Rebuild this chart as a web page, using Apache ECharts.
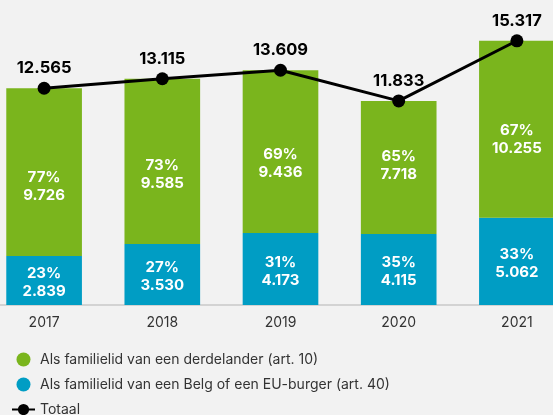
<!DOCTYPE html>
<html>
<head>
<meta charset="utf-8">
<script src="https://cdn.jsdelivr.net/npm/echarts@6/dist/echarts.min.js"></script>
<style>
  html, body { margin: 0; padding: 0; background: #f2f2f2; overflow: hidden; }
  #chart { width: 591px; height: 415px; margin-left: -15px; }
</style>
</head>
<body>
<div id="chart"></div>
<script>
// gegevens
var years = ['2017', '2018', '2019', '2020', '2021']
var art10 = [9726, 9585, 9436, 7718, 10255]
var art10Pct = [77, 73, 69, 65, 67]
var art40 = [2839, 3530, 4173, 4115, 5062]
var art40Pct = [23, 27, 31, 35, 33]
var totaal = [12565, 13115, 13609, 11833, 15317]

// verschuiving van de labels in de groene balken
var greenShift = [14, 13, 12, -2, 10]

function fmt (v) {
  return String(v).replace(/\B(?=(\d{3})+(?!\d))/g, '.')
}

var myChart = echarts.init(document.getElementById('chart'))
var font = 'Inter'

var option = {
  backgroundColor: '#f2f2f2',
  textStyle: { fontFamily: font },
  animation: false,
  grid: { left: 0, right: 0, top: 29, bottom: 110 },
  legend: {
    orient: 'vertical',
    left: 21,
    top: 347,
    height: 70,
    itemGap: 10,
    itemWidth: 23,
    itemHeight: 14,
    textStyle: { fontSize: 14, lineHeight: 15, color: '#333', fontFamily: font },
    data: [
      { name: 'Als familielid van een derdelander (art. 10)', icon: 'circle' },
      { name: 'Als familielid van een Belg of een EU-burger (art. 40)', icon: 'circle' },
      { name: 'Totaal' }
    ]
  },
  xAxis: {
    type: 'category',
    data: years,
    axisTick: { show: false },
    axisLine: { lineStyle: { color: '#c8c8c8', width: 1.5 } },
    axisLabel: { fontSize: 14, color: '#333', margin: 11 }
  },
  yAxis: {
    type: 'value',
    min: 0,
    max: 16000,
    show: false,
    splitLine: { show: false }
  },
  series: [
    {
      name: 'Als familielid van een Belg of een EU-burger (art. 40)',
      type: 'bar',
      stack: 'tot',
      barCategoryGap: '36%',
      data: art40,
      itemStyle: { color: '#009dc4' },
      label: {
        show: true,
        position: 'inside',
        offset: [0, 2],
        color: '#fff',
        fontWeight: 'bold',
        fontSize: 15,
        lineHeight: 18,
        formatter: function (p) { return art40Pct[p.dataIndex] + '%\n' + fmt(p.value) }
      }
    },
    {
      name: 'Als familielid van een derdelander (art. 10)',
      type: 'bar',
      stack: 'tot',
      data: art10.map(function (v, i) {
        return { value: v, label: { offset: [0, greenShift[i]] } }
      }),
      itemStyle: { color: '#7ab51d' },
      label: {
        show: true,
        position: 'inside',
        color: '#fff',
        fontWeight: 'bold',
        fontSize: 15,
        lineHeight: 18,
        formatter: function (p) { return art10Pct[p.dataIndex] + '%\n' + fmt(p.value) }
      }
    },
    {
      name: 'Totaal',
      type: 'line',
      data: totaal,
      symbol: 'circle',
      symbolSize: 13,
      z: 5,
      lineStyle: { color: '#000', width: 3 },
      itemStyle: { color: '#000' },
      label: {
        show: true,
        position: 'top',
        distance: 5,
        color: '#000',
        fontWeight: 'bold',
        fontSize: 16.5,
        formatter: function (p) { return fmt(p.value) }
      }
    }
  ]
}
myChart.setOption(option)
</script>
</body>
</html>
